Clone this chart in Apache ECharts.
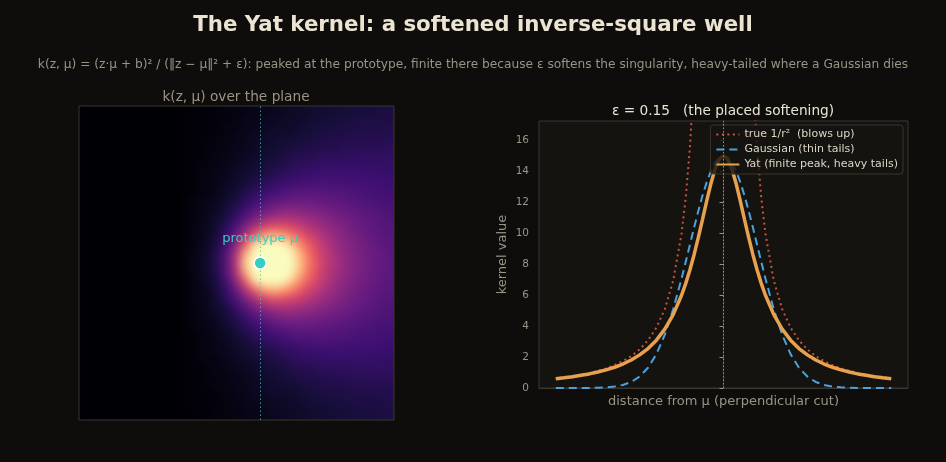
<!DOCTYPE html>
<html>
<head>
<meta charset="utf-8">
<script src="https://cdn.jsdelivr.net/npm/echarts@6/dist/echarts.min.js"></script>
<style>
  html, body { margin: 0; padding: 0; background: #0e0d0b; }
  #stage { position: relative; width: 946px; height: 462px; }
  #heatClip { position: absolute; left: 79px; top: 106px; width: 315px; height: 314px; overflow: hidden; }
  #heat { width: 315px; height: 314px; filter: url(#soft); }
  #main { position: absolute; left: 0; top: 0; width: 946px; height: 462px; }
</style>
</head>
<body>
<svg width="0" height="0" style="position:absolute">
  <filter id="soft" x="-10%" y="-10%" width="120%" height="120%" color-interpolation-filters="sRGB">
    <feGaussianBlur stdDeviation="4"/>
    <feComponentTransfer><feFuncA type="linear" slope="0" intercept="1"/></feComponentTransfer>
  </filter>
</svg>
<div id="stage">
  <div id="heatClip"><div id="heat"></div></div>
  <div id="main"></div>
</div>
<script>
// perpendicular cut through mu (positions along the cut)
var cutX = [-2.0,-1.9,-1.8,-1.7,-1.6,-1.5,-1.4,-1.3,-1.2,-1.1,-1.0,-0.9,-0.8,-0.7,-0.6,-0.5,-0.45,-0.4,-0.35,-0.3,-0.25,-0.2,-0.15,-0.1,-0.05,
  0,0.05,0.1,0.15,0.2,0.25,0.3,0.35,0.4,0.45,0.5,0.6,0.7,0.8,0.9,1.0,1.1,1.2,1.3,1.4,1.5,1.6,1.7,1.8,1.9,2.0];
var yatVals = [0.60,0.66,0.73,0.82,0.91,1.03,1.17,1.34,1.55,1.81,2.14,2.55,3.09,3.80,4.74,5.99,6.76,7.64,8.63,9.73,10.90,12.09,13.21,14.15,14.78,
  15.00,14.78,14.15,13.21,12.09,10.90,9.73,8.63,7.64,6.76,5.99,4.74,3.80,3.09,2.55,2.14,1.81,1.55,1.34,1.17,1.03,0.91,0.82,0.73,0.66,0.60];
var gaussVals = [0.00,0.00,0.00,0.003,0.007,0.017,0.041,0.093,0.197,0.39,0.74,1.31,2.19,3.44,5.08,7.07,8.16,9.27,10.38,11.44,12.43,13.30,14.02,14.56,14.89,
  15.00,14.89,14.56,14.02,13.30,12.43,11.44,10.38,9.27,8.16,7.07,5.08,3.44,2.19,1.31,0.74,0.39,0.197,0.093,0.041,0.017,0.007,0.003,0.00,0.00,0.00];
var invSqVals = [0.62,0.69,0.77,0.86,0.97,1.11,1.27,1.48,1.73,2.06,2.49,3.08,3.90,5.09,6.93,9.97,12.31,15.58,20.3,27.7,39.9,62.3,110.8,249,996,
  null,996,249,110.8,62.3,39.9,27.7,20.3,15.58,12.31,9.97,6.93,5.09,3.90,3.08,2.49,2.06,1.73,1.48,1.27,1.11,0.97,0.86,0.77,0.69,0.62];
var yTicks = [0, 2, 4, 6, 8, 10, 12, 14, 16];
var seriesNames = ['true 1/r²  (blows up)', 'Gaussian (thin tails)', 'Yat (finite peak, heavy tails)'];

// prototype position in the plane
var proto = [0.3, 0];

// k(z, mu) over the plane, colour level 0-100, rows top to bottom
var kernelRows = [
  [0,0,0,0,0,0,0,0,0,0,0,0,0,1,1,2,2,3,3,4,4,5,6,7,7,8,9,9,10,10,11,11,11,12,12],
  [0,0,0,0,0,0,0,0,0,0,0,0,1,1,1,2,2,3,4,4,5,6,7,7,8,9,10,10,11,11,12,12,12,12,13],
  [0,0,0,0,0,0,0,0,0,0,0,0,1,1,1,2,3,3,4,5,6,7,7,8,9,10,11,11,12,12,13,13,13,13,14],
  [0,0,0,0,0,0,0,0,0,0,0,0,1,1,2,2,3,4,5,6,7,8,9,9,10,11,12,13,13,13,14,14,14,14,14],
  [0,0,0,0,0,0,0,0,0,0,0,0,1,1,2,2,3,4,5,6,8,9,10,11,12,13,13,14,14,15,15,15,15,15,16],
  [0,0,0,0,0,0,0,0,0,0,0,0,1,1,2,3,4,5,6,7,9,10,11,13,14,14,15,16,16,16,17,17,17,17,17],
  [0,0,0,0,0,0,0,0,0,0,0,0,1,2,2,3,4,6,7,9,10,12,13,15,16,17,17,18,18,18,18,18,18,18,18],
  [0,0,0,0,0,0,0,0,0,0,0,0,1,2,3,4,5,7,9,10,12,14,16,17,18,19,20,20,20,20,20,20,20,19,19],
  [0,0,0,0,0,0,0,0,0,0,0,0,1,2,3,4,6,8,10,13,15,17,19,20,22,22,23,23,23,22,22,22,21,21,20],
  [0,0,0,0,0,0,0,0,0,0,0,0,1,2,3,5,7,10,13,16,19,21,23,25,26,26,26,26,25,25,24,23,23,22,21],
  [0,0,0,0,0,0,0,0,0,0,0,0,2,3,4,6,9,12,16,20,23,27,29,30,31,31,30,29,28,27,26,25,24,23,23],
  [0,0,0,0,0,0,0,0,0,0,0,0,2,3,5,7,11,15,20,26,30,34,37,38,37,36,35,33,32,30,29,27,26,25,24],
  [0,0,0,0,0,0,0,0,0,0,0,0,2,3,6,9,13,19,27,34,41,45,47,47,45,43,40,38,35,33,31,29,28,26,25],
  [0,0,0,0,0,0,0,0,0,0,0,0,2,4,6,11,17,25,36,47,56,62,62,59,55,50,46,42,39,36,33,31,29,27,26],
  [0,0,0,0,0,0,0,0,0,0,0,0,2,4,7,12,20,32,48,66,80,86,82,75,66,58,52,46,42,38,35,32,30,28,27],
  [0,0,0,0,0,0,0,0,0,0,0,0,2,5,8,14,24,41,65,94,100,100,100,92,77,66,57,50,44,40,36,34,31,29,27],
  [0,0,0,0,0,0,0,0,0,0,0,0,3,5,9,16,28,49,83,100,100,100,100,100,86,71,60,52,46,41,37,34,32,30,28],
  [0,0,0,0,0,0,0,0,0,0,0,0,3,5,9,16,29,52,90,100,100,100,100,100,89,73,62,53,47,42,38,35,32,30,28],
  [0,0,0,0,0,0,0,0,0,0,0,0,3,5,9,16,28,49,83,100,100,100,100,100,86,71,60,52,46,41,37,34,32,30,28],
  [0,0,0,0,0,0,0,0,0,0,0,0,2,5,8,14,24,41,65,94,100,100,100,92,77,66,57,50,44,40,36,34,31,29,27],
  [0,0,0,0,0,0,0,0,0,0,0,0,2,4,7,12,20,32,48,66,80,86,82,75,66,58,52,46,42,38,35,32,30,28,27],
  [0,0,0,0,0,0,0,0,0,0,0,0,2,4,6,11,17,25,36,47,56,62,62,59,55,50,46,42,39,36,33,31,29,27,26],
  [0,0,0,0,0,0,0,0,0,0,0,0,2,3,6,9,13,19,27,34,41,45,47,47,45,43,40,38,35,33,31,29,28,26,25],
  [0,0,0,0,0,0,0,0,0,0,0,0,2,3,5,7,11,15,20,26,30,34,37,38,37,36,35,33,32,30,29,27,26,25,24],
  [0,0,0,0,0,0,0,0,0,0,0,0,2,3,4,6,9,12,16,20,23,27,29,30,31,31,30,29,28,27,26,25,24,23,23],
  [0,0,0,0,0,0,0,0,0,0,0,0,1,2,3,5,7,10,13,16,19,21,23,25,26,26,26,26,25,25,24,23,23,22,21],
  [0,0,0,0,0,0,0,0,0,0,0,0,1,2,3,4,6,8,10,13,15,17,19,20,22,22,23,23,23,22,22,22,21,21,20],
  [0,0,0,0,0,0,0,0,0,0,0,0,1,2,3,4,5,7,9,10,12,14,16,17,18,19,20,20,20,20,20,20,20,19,19],
  [0,0,0,0,0,0,0,0,0,0,0,0,1,2,2,3,4,6,7,9,10,12,13,15,16,17,17,18,18,18,18,18,18,18,18],
  [0,0,0,0,0,0,0,0,0,0,0,0,1,1,2,3,4,5,6,7,9,10,11,13,14,14,15,16,16,16,17,17,17,17,17],
  [0,0,0,0,0,0,0,0,0,0,0,0,1,1,2,2,3,4,5,6,8,9,10,11,12,13,13,14,14,15,15,15,15,15,16],
  [0,0,0,0,0,0,0,0,0,0,0,0,1,1,2,2,3,4,5,6,7,8,9,9,10,11,12,13,13,13,14,14,14,14,14],
  [0,0,0,0,0,0,0,0,0,0,0,0,1,1,1,2,3,3,4,5,6,7,7,8,9,10,11,11,12,12,13,13,13,13,14],
  [0,0,0,0,0,0,0,0,0,0,0,0,1,1,1,2,2,3,4,4,5,6,7,7,8,9,10,10,11,11,12,12,12,12,13],
  [0,0,0,0,0,0,0,0,0,0,0,0,0,1,1,2,2,3,3,4,4,5,6,7,7,8,9,9,10,10,11,11,11,12,12]
];

var magma = ['#000004','#140e36','#3b0f70','#641a80','#8c2981','#b73779','#de4968','#f7705c','#fe9f6d','#fecf92','#fcfdbf'];
var teal = '#34cfc0';
var muted = '#9a9484';
var frame = '#3a3630';
var font = 'DejaVu Sans';

// heatmap cells
var heatData = [];
var colIdx = [], rowIdx = [];
for (var j = 0; j < kernelRows.length; j++) {
  rowIdx.push(j);
  for (var i = 0; i < kernelRows[j].length; i++) {
    heatData.push([i, j, kernelRows[j][i]]);
  }
}
for (var i = 0; i < kernelRows[0].length; i++) colIdx.push(i);

function pairs(vals) {
  var out = [];
  for (var i = 0; i < cutX.length; i++) out.push([cutX[i], vals[i]]);
  return out;
}

// left panel field (own instance so it can be softened)
var heatChart = echarts.init(document.getElementById('heat'));
heatChart.setOption({
  backgroundColor: '#000004',
  animation: false,
  visualMap: { show: false, min: 0, max: 100, inRange: { color: magma } },
  grid: { left: 0, top: 0, right: 0, bottom: 0 },
  xAxis: { type: 'category', data: colIdx, show: false },
  yAxis: { type: 'category', data: rowIdx, inverse: true, show: false },
  series: [{ type: 'heatmap', data: heatData, progressive: 0, silent: true, emphasis: { disabled: true } }]
});

var chart = echarts.init(document.getElementById('main'));
var option = {
  backgroundColor: 'transparent',
  animation: false,
  textStyle: { fontFamily: font },
  title: [
    { text: 'The Yat kernel: a softened inverse-square well', left: 'center', top: 15, padding: 0,
      textStyle: { color: '#ece4d2', fontSize: 21.3, fontWeight: 'bold', fontFamily: font } },
    { text: 'k(z, μ) = (z·μ + b)² / (‖z − μ‖² + ε): peaked at the prototype, finite there because ε softens the singularity, heavy-tailed where a Gaussian dies',
      left: 'center', top: 59, padding: 0,
      textStyle: { color: muted, fontSize: 12.2, fontWeight: 'normal', fontFamily: font } },
    { text: 'k(z, μ) over the plane', left: 236, textAlign: 'center', top: 90, padding: 0,
      textStyle: { color: muted, fontSize: 13.7, fontWeight: 'normal', fontFamily: font } },
    { text: 'ε = 0.15   (the placed softening)', left: 723, textAlign: 'center', top: 104, padding: 0,
      textStyle: { color: '#ece4d2', fontSize: 13.7, fontWeight: 'normal', fontFamily: font } }
  ],
  legend: {
    data: seriesNames,
    orient: 'vertical',
    right: 43, top: 125,
    itemWidth: 23, itemHeight: 10, itemGap: 4,
    padding: [4, 5, 4, 5],
    backgroundColor: 'rgba(22,20,16,0.82)',
    borderColor: frame, borderWidth: 1, borderRadius: 3,
    selectedMode: false,
    itemStyle: { opacity: 0 },
    textStyle: { color: '#ddd6c6', fontSize: 11, fontFamily: font }
  },
  grid: [
    { left: 79, top: 106, width: 315, height: 314, show: true, borderColor: frame, borderWidth: 1, backgroundColor: 'transparent' },
    { left: 539, top: 121, width: 369, height: 267, show: true, borderColor: frame, borderWidth: 1, backgroundColor: '#14130f' }
  ],
  xAxis: [
    { type: 'value', gridIndex: 0, min: -2, max: 2, show: false },
    { type: 'value', gridIndex: 1, min: -2.2, max: 2.2,
      name: 'distance from μ (perpendicular cut)', nameLocation: 'middle', nameGap: 7,
      nameTextStyle: { color: muted, fontSize: 13, fontFamily: font },
      axisLine: { show: true, lineStyle: { color: frame } },
      axisTick: { show: false }, axisLabel: { show: false }, splitLine: { show: false } }
  ],
  yAxis: [
    { type: 'value', gridIndex: 0, min: -2, max: 2, show: false },
    { type: 'value', gridIndex: 1, min: 0, max: 17.25,
      name: 'kernel value', nameLocation: 'middle', nameGap: 30, nameRotate: 90,
      nameTextStyle: { color: muted, fontSize: 13, fontFamily: font },
      axisLine: { show: true, lineStyle: { color: frame } },
      axisTick: { show: true, length: 4, customValues: yTicks, lineStyle: { color: muted } },
      axisLabel: { color: muted, fontSize: 10.5, margin: 10, customValues: yTicks, fontFamily: font },
      splitLine: { show: false } }
  ],
  series: [
    { type: 'scatter', xAxisIndex: 0, yAxisIndex: 0, data: [proto], symbolSize: 12, silent: true,
      itemStyle: { color: teal, borderColor: '#ffffff', borderWidth: 1.5, opacity: 1 },
      label: { show: true, position: 'top', distance: 11, formatter: 'prototype μ',
        color: teal, fontSize: 13, fontFamily: font },
      markLine: { symbol: 'none', silent: true, label: { show: false },
        lineStyle: { color: teal, type: [1.5, 2.5], width: 1, opacity: 0.75 },
        data: [{ xAxis: proto[0] }] },
      z: 5 },
    { name: seriesNames[0], type: 'line', xAxisIndex: 1, yAxisIndex: 1, data: pairs(invSqVals),
      symbol: 'none', clip: true, connectNulls: false,
      lineStyle: { color: '#c8553d', width: 2, type: [2, 3.5] }, itemStyle: { color: '#c8553d' },
      markLine: { symbol: 'none', silent: true, label: { show: false },
        lineStyle: { color: teal, type: [1.5, 2], width: 1, opacity: 0.9 },
        data: [{ xAxis: 0 }] } },
    { name: seriesNames[1], type: 'line', xAxisIndex: 1, yAxisIndex: 1, data: pairs(gaussVals),
      symbol: 'none', clip: true,
      lineStyle: { color: '#4aa3df', width: 2, type: [8, 5] }, itemStyle: { color: '#4aa3df' } },
    { name: seriesNames[2], type: 'line', xAxisIndex: 1, yAxisIndex: 1, data: pairs(yatVals),
      symbol: 'none', clip: true,
      lineStyle: { color: '#e8a24f', width: 3.5 }, itemStyle: { color: '#e8a24f' } }
  ]
};
chart.setOption(option);
</script>
</body>
</html>
